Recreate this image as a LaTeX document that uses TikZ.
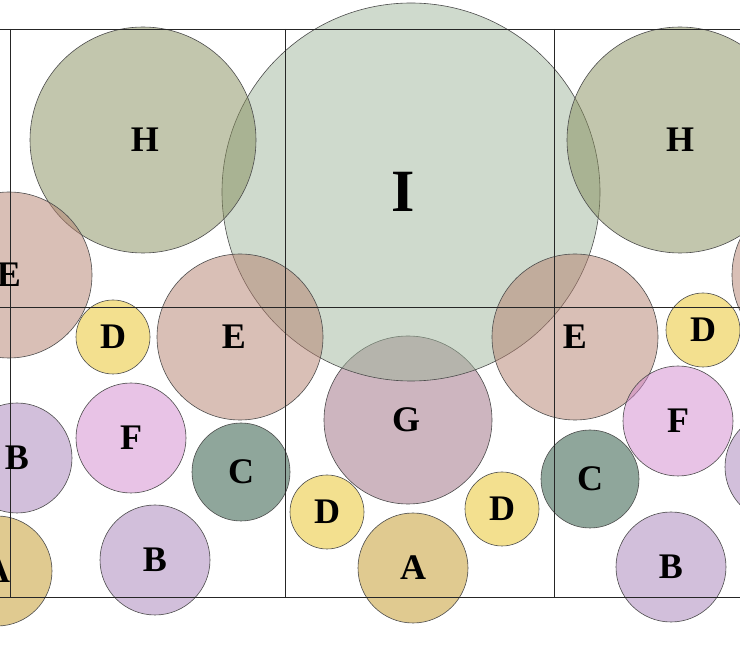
\documentclass[tikz,border=0pt]{standalone}
\usepackage{fontspec}
\setmainfont{Liberation Serif}
\usetikzlibrary{positioning}

\definecolor{colA}{RGB}{193,149,33}
\definecolor{colB}{RGB}{165,127,183}
\definecolor{colC}{RGB}{31,77,55}
\definecolor{colD}{RGB}{231,193,31}
\definecolor{colE}{RGB}{179,127,109}
\definecolor{colF}{RGB}{209,135,205}
\definecolor{colG}{RGB}{155,107,127}
\definecolor{colH}{RGB}{133,141,91}
\definecolor{colI}{RGB}{159,181,155}

\tikzset{
  bubble/.style={draw=black!70, line width=0.6pt, circle, inner sep=0pt,
    fill opacity=0.5},
  bubA/.style={bubble, fill=colA, minimum size=110pt},
  bubB/.style={bubble, fill=colB, minimum size=110pt},
  bubC/.style={bubble, fill=colC, minimum size=98pt},
  bubD/.style={bubble, fill=colD, minimum size=74pt},
  bubE/.style={bubble, fill=colE, minimum size=166pt},
  bubF/.style={bubble, fill=colF, minimum size=110pt},
  bubG/.style={bubble, fill=colG, minimum size=168pt},
  bubH/.style={bubble, fill=colH, minimum size=226pt},
  bubI/.style={bubble, fill=colI, minimum size=378pt},
  tag/.style={inner sep=0pt, font=\fontsize{36}{36}\selectfont\bfseries},
  bigtag/.style={tag, font=\fontsize{60}{60}\selectfont\bfseries},
  gridline/.style={draw=black!85, line width=0.8pt}
}

\begin{document}
\begin{tikzpicture}[x=1pt, y=-1pt]
  \useasboundingbox (0,0) rectangle (740,660);
  \clip (0,0) rectangle (740,660);

  % Large circles
  \node[bubG] (centG) at (408,420) {};
  \node[bubI] (bigI) at (411,192) {};
  \node[bubH] (leftH) at (143,140) {};
  \node[bubH] (rightH) at (680,140) {};

  % E row
  \node[bubE] (edgeE) at (9,275) {};
  \node[bubE] (midE) at (240,337) {};
  \node[bubE] (rightE) at (575,337) {};
  \node[bubE] (farE) at (815,275) {};

  % Middle circles
  \node[bubD] (leftD) at (113,337) {};
  \node[bubD] (rightD) at (703,330) {};
  \node[bubF] (leftF) at (131,438) {};
  \node[bubF] (rightF) at (678,421) {};
  \node[bubB] (edgeB) at (17,458) {};
  \node[bubB] (farB) at (780,467) {};
  \node[bubC] (leftC) at (241,472) {};
  \node[bubC] (rightC) at (590,479) {};

  % Bottom row
  \node[bubA] (edgeA) at (-3,571) {};
  \node[bubB] (lowB) at (155,560) {};
  \node[bubD] (lowDl) at (327,512) {};
  \node[bubA] (centA) at (413,568) {};
  \node[bubD] (lowDr) at (502,509) {};
  \node[bubB] (rightB) at (671,567) {};

  % Grid
  \draw[gridline] (0,29) -- (740,29);
  \draw[gridline] (0,307) -- (740,307);
  \draw[gridline] (0,597) -- (740,597);
  \draw[gridline] (10,29) -- (10,597);
  \draw[gridline] (285,29) -- (285,597);
  \draw[gridline] (554,29) -- (554,597);

  % Letters
  \node[bigtag] (tI) at ([xshift=-8pt]bigI) {I};
  \node[tag] (tGc) at ([xshift=-2pt]centG) {G};
  \node[tag] (tHl) at ([xshift=2pt]leftH) {H};
  \node[tag] (tHr) at (rightH) {H};
  \node[tag] (tEe) at (edgeE) {E};
  \node[tag] (tEm) at ([xshift=-6pt]midE) {E};
  \node[tag] (tEr) at (rightE) {E};
  \node[tag] (tEf) at (farE) {E};
  \node[tag] (tDl) at (leftD) {D};
  \node[tag] (tDr) at (rightD) {D};
  \node[tag] (tFl) at (leftF) {F};
  \node[tag] (tFr) at (rightF) {F};
  \node[tag] (tBe) at (edgeB) {B};
  \node[tag] (tBf) at (farB) {B};
  \node[tag] (tCl) at (leftC) {C};
  \node[tag] (tCr) at (rightC) {C};
  \node[tag] (tAe) at (edgeA) {A};
  \node[tag] (tBl) at (lowB) {B};
  \node[tag] (tDbl) at (lowDl) {D};
  \node[tag] (tAc) at (centA) {A};
  \node[tag] (tDbr) at (lowDr) {D};
  \node[tag] (tBr) at (rightB) {B};
\end{tikzpicture}
\end{document}
